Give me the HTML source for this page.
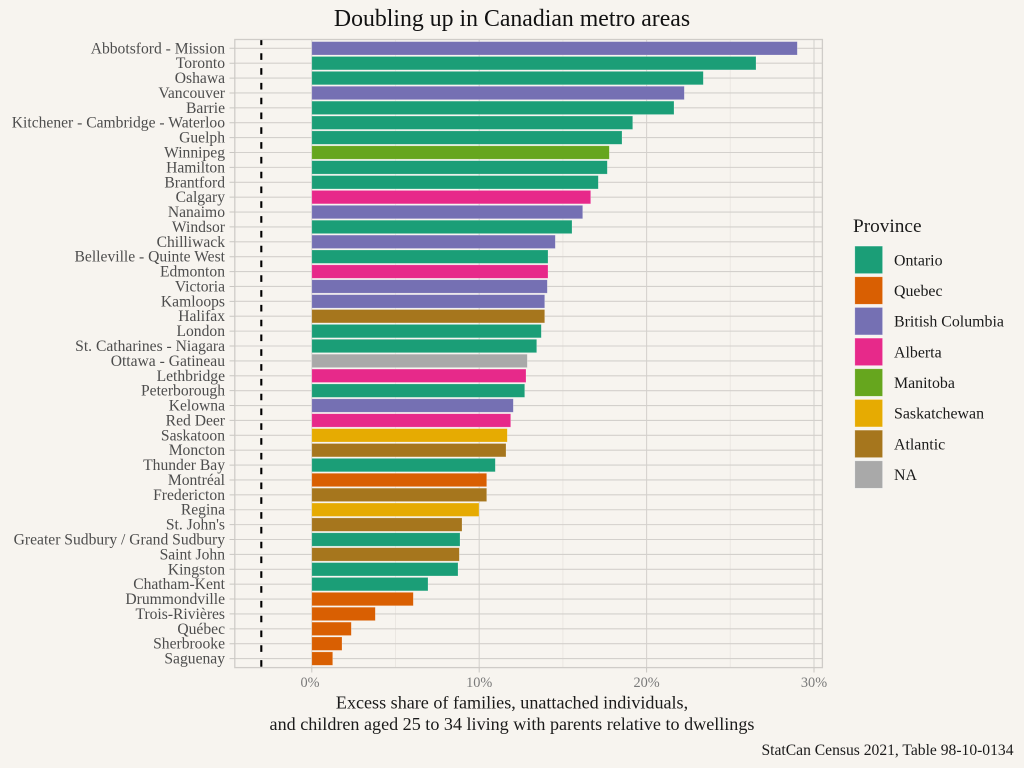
<!DOCTYPE html>
<html>
<head>
<meta charset="utf-8">
<style>
html,body{margin:0;padding:0;background:#f7f4ef;}
svg{display:block;}
text{font-family:"Liberation Serif","Times New Roman",serif;}
</style>
</head>
<body>
<svg width="1024" height="768" viewBox="0 0 1024 768" xmlns="http://www.w3.org/2000/svg">
<rect x="0" y="0" width="1024" height="768" fill="#f7f4ef"/>

<!-- title -->
<text x="512" y="26" font-size="23.8" fill="#111" text-anchor="middle">Doubling up in Canadian metro areas</text>

<!-- minor vertical gridlines -->
<g stroke="#ebe7e2" stroke-width="1">
<line x1="395.5" y1="39.5" x2="395.5" y2="667.6"/>
<line x1="562.9" y1="39.5" x2="562.9" y2="667.6"/>
<line x1="730.3" y1="39.5" x2="730.3" y2="667.6"/>
</g>
<!-- major vertical gridlines -->
<g stroke="#d6d3cf" stroke-width="1.1">
<line x1="311.8" y1="39.5" x2="311.8" y2="667.6"/>
<line x1="479.2" y1="39.5" x2="479.2" y2="667.6"/>
<line x1="646.6" y1="39.5" x2="646.6" y2="667.6"/>
<line x1="814" y1="39.5" x2="814" y2="667.6"/>
</g>
<!-- horizontal gridlines -->
<g stroke="#d3d0cc" stroke-width="1.1">
<path d="M234.8 48.3H822.4M234.8 63.19H822.4M234.8 78.07H822.4M234.8 92.96H822.4M234.8 107.84H822.4M234.8 122.73H822.4M234.8 137.61H822.4M234.8 152.5H822.4M234.8 167.38H822.4M234.8 182.27H822.4M234.8 197.15H822.4M234.8 212.04H822.4M234.8 226.92H822.4M234.8 241.81H822.4M234.8 256.69H822.4M234.8 271.58H822.4M234.8 286.46H822.4M234.8 301.35H822.4M234.8 316.23H822.4M234.8 331.12H822.4M234.8 346H822.4M234.8 360.89H822.4M234.8 375.77H822.4M234.8 390.66H822.4M234.8 405.54H822.4M234.8 420.43H822.4M234.8 435.31H822.4M234.8 450.2H822.4M234.8 465.08H822.4M234.8 479.97H822.4M234.8 494.85H822.4M234.8 509.74H822.4M234.8 524.62H822.4M234.8 539.51H822.4M234.8 554.39H822.4M234.8 569.28H822.4M234.8 584.16H822.4M234.8 599.05H822.4M234.8 613.93H822.4M234.8 628.82H822.4M234.8 643.7H822.4M234.8 658.59H822.4"/>
</g>

<!-- bars -->
<g stroke="#ffffff" stroke-opacity="0.35" stroke-width="0.6">
<rect x="311.8" y="41.6" width="485.5" height="13.4" fill="#7570B3"/>
<rect x="311.8" y="56.49" width="444.2" height="13.4" fill="#1B9E77"/>
<rect x="311.8" y="71.37" width="391.5" height="13.4" fill="#1B9E77"/>
<rect x="311.8" y="86.26" width="372.5" height="13.4" fill="#7570B3"/>
<rect x="311.8" y="101.14" width="362.2" height="13.4" fill="#1B9E77"/>
<rect x="311.8" y="116.03" width="320.9" height="13.4" fill="#1B9E77"/>
<rect x="311.8" y="130.91" width="310.2" height="13.4" fill="#1B9E77"/>
<rect x="311.8" y="145.8" width="297.5" height="13.4" fill="#66A61E"/>
<rect x="311.8" y="160.68" width="295.5" height="13.4" fill="#1B9E77"/>
<rect x="311.8" y="175.57" width="286.5" height="13.4" fill="#1B9E77"/>
<rect x="311.8" y="190.45" width="278.9" height="13.4" fill="#E7298A"/>
<rect x="311.8" y="205.34" width="270.9" height="13.4" fill="#7570B3"/>
<rect x="311.8" y="220.22" width="260.2" height="13.4" fill="#1B9E77"/>
<rect x="311.8" y="235.11" width="243.5" height="13.4" fill="#7570B3"/>
<rect x="311.8" y="249.99" width="236.2" height="13.4" fill="#1B9E77"/>
<rect x="311.8" y="264.88" width="236.2" height="13.4" fill="#E7298A"/>
<rect x="311.8" y="279.76" width="235.5" height="13.4" fill="#7570B3"/>
<rect x="311.8" y="294.65" width="232.9" height="13.4" fill="#7570B3"/>
<rect x="311.8" y="309.53" width="232.9" height="13.4" fill="#A6761D"/>
<rect x="311.8" y="324.42" width="229.5" height="13.4" fill="#1B9E77"/>
<rect x="311.8" y="339.3" width="224.9" height="13.4" fill="#1B9E77"/>
<rect x="311.8" y="354.19" width="215.5" height="13.4" fill="#A9A9A9"/>
<rect x="311.8" y="369.07" width="214.2" height="13.4" fill="#E7298A"/>
<rect x="311.8" y="383.96" width="212.9" height="13.4" fill="#1B9E77"/>
<rect x="311.8" y="398.84" width="201.5" height="13.4" fill="#7570B3"/>
<rect x="311.8" y="413.73" width="198.9" height="13.4" fill="#E7298A"/>
<rect x="311.8" y="428.61" width="195.5" height="13.4" fill="#E6AB02"/>
<rect x="311.8" y="443.5" width="194.2" height="13.4" fill="#A6761D"/>
<rect x="311.8" y="458.38" width="183.5" height="13.4" fill="#1B9E77"/>
<rect x="311.8" y="473.27" width="174.9" height="13.4" fill="#D95F02"/>
<rect x="311.8" y="488.15" width="174.9" height="13.4" fill="#A6761D"/>
<rect x="311.8" y="503.04" width="167.2" height="13.4" fill="#E6AB02"/>
<rect x="311.8" y="517.92" width="150.2" height="13.4" fill="#A6761D"/>
<rect x="311.8" y="532.81" width="148.2" height="13.4" fill="#1B9E77"/>
<rect x="311.8" y="547.69" width="147.5" height="13.4" fill="#A6761D"/>
<rect x="311.8" y="562.58" width="146.2" height="13.4" fill="#1B9E77"/>
<rect x="311.8" y="577.46" width="116.2" height="13.4" fill="#1B9E77"/>
<rect x="311.8" y="592.35" width="101.5" height="13.4" fill="#D95F02"/>
<rect x="311.8" y="607.23" width="63.5" height="13.4" fill="#D95F02"/>
<rect x="311.8" y="622.12" width="39.5" height="13.4" fill="#D95F02"/>
<rect x="311.8" y="637" width="30.2" height="13.4" fill="#D95F02"/>
<rect x="311.8" y="651.89" width="20.9" height="13.4" fill="#D95F02"/>
</g>

<!-- dashed reference line -->
<path d="M261.3 666.7V39.5" stroke="#000" stroke-width="2.1" stroke-dasharray="6.6 8.2" fill="none"/>

<!-- panel border -->
<rect x="234.8" y="39.5" width="587.6" height="628.1" fill="none" stroke="#cfccc8" stroke-width="1.3"/>

<!-- y ticks -->
<g stroke="#c9c6c2" stroke-width="1">
<path d="M229.5 48.3H234.8M229.5 63.19H234.8M229.5 78.07H234.8M229.5 92.96H234.8M229.5 107.84H234.8M229.5 122.73H234.8M229.5 137.61H234.8M229.5 152.5H234.8M229.5 167.38H234.8M229.5 182.27H234.8M229.5 197.15H234.8M229.5 212.04H234.8M229.5 226.92H234.8M229.5 241.81H234.8M229.5 256.69H234.8M229.5 271.58H234.8M229.5 286.46H234.8M229.5 301.35H234.8M229.5 316.23H234.8M229.5 331.12H234.8M229.5 346H234.8M229.5 360.89H234.8M229.5 375.77H234.8M229.5 390.66H234.8M229.5 405.54H234.8M229.5 420.43H234.8M229.5 435.31H234.8M229.5 450.2H234.8M229.5 465.08H234.8M229.5 479.97H234.8M229.5 494.85H234.8M229.5 509.74H234.8M229.5 524.62H234.8M229.5 539.51H234.8M229.5 554.39H234.8M229.5 569.28H234.8M229.5 584.16H234.8M229.5 599.05H234.8M229.5 613.93H234.8M229.5 628.82H234.8M229.5 643.7H234.8M229.5 658.59H234.8"/>
<path d="M311.8 667.6V672.5M479.2 667.6V672.5M646.6 667.6V672.5M814 667.6V672.5"/>
</g>

<!-- y labels -->
<g font-size="15.6" fill="#4d4d4d" text-anchor="end">
<text x="225" y="53.3">Abbotsford - Mission</text>
<text x="225" y="68.19">Toronto</text>
<text x="225" y="83.07">Oshawa</text>
<text x="225" y="97.96">Vancouver</text>
<text x="225" y="112.84">Barrie</text>
<text x="225" y="127.73">Kitchener - Cambridge - Waterloo</text>
<text x="225" y="142.61">Guelph</text>
<text x="225" y="157.5">Winnipeg</text>
<text x="225" y="172.38">Hamilton</text>
<text x="225" y="187.27">Brantford</text>
<text x="225" y="202.15">Calgary</text>
<text x="225" y="217.04">Nanaimo</text>
<text x="225" y="231.92">Windsor</text>
<text x="225" y="246.81">Chilliwack</text>
<text x="225" y="261.69">Belleville - Quinte West</text>
<text x="225" y="276.58">Edmonton</text>
<text x="225" y="291.46">Victoria</text>
<text x="225" y="306.35">Kamloops</text>
<text x="225" y="321.23">Halifax</text>
<text x="225" y="336.12">London</text>
<text x="225" y="351">St. Catharines - Niagara</text>
<text x="225" y="365.89">Ottawa - Gatineau</text>
<text x="225" y="380.77">Lethbridge</text>
<text x="225" y="395.66">Peterborough</text>
<text x="225" y="410.54">Kelowna</text>
<text x="225" y="425.43">Red Deer</text>
<text x="225" y="440.31">Saskatoon</text>
<text x="225" y="455.2">Moncton</text>
<text x="225" y="470.08">Thunder Bay</text>
<text x="225" y="484.97">Montréal</text>
<text x="225" y="499.85">Fredericton</text>
<text x="225" y="514.74">Regina</text>
<text x="225" y="529.62">St. John's</text>
<text x="225" y="544.51">Greater Sudbury / Grand Sudbury</text>
<text x="225" y="559.39">Saint John</text>
<text x="225" y="574.28">Kingston</text>
<text x="225" y="589.16">Chatham-Kent</text>
<text x="225" y="604.05">Drummondville</text>
<text x="225" y="618.93">Trois-Rivières</text>
<text x="225" y="633.82">Québec</text>
<text x="225" y="648.7">Sherbrooke</text>
<text x="225" y="663.59">Saguenay</text>
</g>

<!-- x tick labels -->
<g font-size="14.3" fill="#7a7a7a" text-anchor="middle">
<text x="310" y="687">0%</text>
<text x="479.2" y="687">10%</text>
<text x="646.6" y="687">20%</text>
<text x="814" y="687">30%</text>
</g>

<!-- x axis title -->
<g font-size="18.1" fill="#1a1a1a" text-anchor="middle">
<text x="512" y="708.5">Excess share of families, unattached individuals,</text>
<text x="512" y="730.2">and children aged 25 to 34 living with parents relative to dwellings</text>
</g>

<!-- caption -->
<text x="1013.5" y="755" font-size="15.6" fill="#1a1a1a" text-anchor="end">StatCan Census 2021, Table 98-10-0134</text>

<!-- legend -->
<text x="853" y="232" font-size="19.3" fill="#1a1a1a">Province</text>
<g stroke="#ffffff" stroke-opacity="0.6" stroke-width="0.8">
<rect x="854.7" y="246" width="28" height="27.7" fill="#1B9E77"/>
<rect x="854.7" y="276.67" width="28" height="27.7" fill="#D95F02"/>
<rect x="854.7" y="307.34" width="28" height="27.7" fill="#7570B3"/>
<rect x="854.7" y="338.01" width="28" height="27.7" fill="#E7298A"/>
<rect x="854.7" y="368.68" width="28" height="27.7" fill="#66A61E"/>
<rect x="854.7" y="399.35" width="28" height="27.7" fill="#E6AB02"/>
<rect x="854.7" y="430.02" width="28" height="27.7" fill="#A6761D"/>
<rect x="854.7" y="460.69" width="28" height="27.7" fill="#A9A9A9"/>
</g>
<g font-size="15.9" fill="#1a1a1a">
<text x="894" y="265.3">Ontario</text>
<text x="894" y="295.97">Quebec</text>
<text x="894" y="326.64">British Columbia</text>
<text x="894" y="357.31">Alberta</text>
<text x="894" y="387.98">Manitoba</text>
<text x="894" y="418.65">Saskatchewan</text>
<text x="894" y="449.32">Atlantic</text>
<text x="894" y="479.99">NA</text>
</g>
</svg>
</body>
</html>
